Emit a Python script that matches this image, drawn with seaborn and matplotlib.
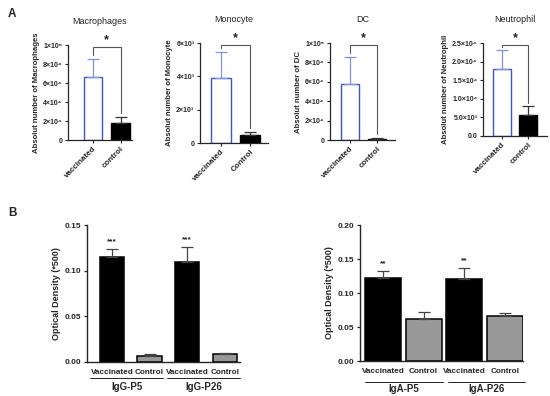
import numpy as np
import pandas as pd
import seaborn as sns
import matplotlib.pyplot as plt

sns.set_style("ticks")
plt.rcParams['font.family'] = ['Liberation Sans', 'DejaVu Sans']

# --- datos panel A ---
cells = ["Macrophages", "Monocyte", "DC", "Neutrophil"]
groups_a = [["vaccinated", "control"], ["vaccinated", "Control"],
            ["vaccinated", "control"], ["vaccinated", "control"]]
mean_a = [[6.6e4, 1.8e4], [3.9e3, 0.5e3], [5.8e4, 1.5e3], [1.8e4, 5.6e3]]
err_a = [[1.9e4, 0.6e4], [1.55e3, 0.18e3], [2.8e4, 1.0e3], [0.5e4, 2.4e3]]
ymax_a = [1e5, 6e3, 1e5, 2.5e4]
yticks_a = [[0, 2e4, 4e4, 6e4, 8e4, 1e5], [0, 2e3, 4e3, 6e3],
            [0, 2e4, 4e4, 6e4, 8e4, 1e5], [0, 5e3, 1e4, 1.5e4, 2e4, 2.5e4]]
ytlabels_a = [["0", "2×10⁴", "4×10⁴", "6×10⁴", "8×10⁴", "1×10⁵"],
              ["0", "2×10³", "4×10³", "6×10³"],
              ["0", "2×10⁴", "4×10⁴", "6×10⁴", "8×10⁴", "1×10⁵"],
              ["0.0", "5.0×10³", "1.0×10⁴", "1.5×10⁴", "2.0×10⁴", "2.5×10⁴"]]

# --- datos panel B ---
conds = ["Vaccinated", "Control", "Vaccinated", "Control"]
igg_groups = ["IgG-P5", "IgG-P26"]
igg_mean = [0.115, 0.007, 0.109, 0.009]
igg_err = [0.009, 0.0015, 0.017, 0.0005]
igg_sig = ["***", "", "***", ""]
iga_groups = ["IgA-P5", "IgA-P26"]
iga_mean = [0.122, 0.062, 0.120, 0.066]
iga_err = [0.010, 0.010, 0.017, 0.005]
iga_sig = ["**", "", "**", ""]

W, H = 550, 396
fig = plt.figure(figsize=(5.5, 3.96), dpi=100)


def px_axes(x0, x1, ytop, ybot):
    return fig.add_axes([x0 / W, 1 - ybot / H, (x1 - x0) / W, (ybot - ytop) / H])


blue = "#3a56d4"
blue_err = "#7f93e3"

# posiciones (pixeles) de los ejes de A: x0, x1, ytop, ybot, xlim
pos_a = [(68, 132, 45, 140, (-0.89, 1.4)),
         (200, 268, 43, 143, (-0.72, 1.62)),
         (330, 395, 43, 140, (-0.74, 1.67)),
         (483, 547, 43, 136, (-0.73, 1.73))]

for i, cell in enumerate(cells):
    x0, x1, yt, yb, xl = pos_a[i]
    ax = px_axes(x0, x1, yt, yb)
    df = pd.DataFrame({"grupo": groups_a[i], "valor": mean_a[i]})
    sns.barplot(data=df, x="grupo", y="valor", hue="grupo", palette=["white", "black"],
                width=0.67, legend=False, ax=ax, errorbar=None)
    for j, p in enumerate(ax.patches):
        p.set_edgecolor(blue if j == 0 else "black")
        p.set_linewidth(1.0)
    ax.errorbar([0], [mean_a[i][0]], yerr=[[0], [err_a[i][0]]], fmt="none",
                ecolor=blue_err, elinewidth=0.9, capsize=4, capthick=0.9)
    ax.errorbar([1], [mean_a[i][1]], yerr=[[0], [err_a[i][1]]], fmt="none",
                ecolor="#333333", elinewidth=0.9, capsize=4, capthick=0.9)
    ax.set_xlim(*xl)
    ax.set_ylim(0, ymax_a[i])
    ax.set_yticks(yticks_a[i])
    ax.set_yticklabels(ytlabels_a[i], fontsize=5, fontweight="bold")
    ax.set_xticks([0, 1])
    ax.set_xticklabels(groups_a[i], rotation=45, ha="right", rotation_mode="anchor",
                       fontsize=5.8, fontweight="bold")
    ax.set_xlabel("")
    ax.set_ylabel("Absolut number of " + cell, fontsize=5.6, fontweight="bold", labelpad=2)
    ax.tick_params(length=2.5, width=0.8, pad=1.5)
    sns.despine(ax=ax)
    for s in ["left", "bottom"]:
        ax.spines[s].set_linewidth(0.9)
    ax.set_title(cell, fontsize=6.5, pad=15)
    # corchete de significancia
    top = ymax_a[i]
    yb_ = 0.98 * top
    l_end = mean_a[i][0] + err_a[i][0] + 0.04 * top
    r_end = mean_a[i][1] + err_a[i][1] + 0.04 * top
    ax.plot([0, 0, 1, 1], [l_end, yb_, yb_, r_end], color="#555555", lw=0.8, clip_on=False)
    ax.text(0.5, yb_ + 0.01 * top, "*", ha="center", va="bottom", fontsize=9,
            fontweight="bold", clip_on=False)

fig.text(8 / W, 1 - 14 / H, "A", fontsize=8.5, fontweight="bold", va="center")
fig.text(8 / W, 1 - 213 / H, "B", fontsize=8.5, fontweight="bold", va="center")


def panel_b(x0, x1, yt, yb, xl, width, means, errs, sigs, grp, ymax, yticks, ytl,
            line_y, lab_y, lines_x):
    ax = px_axes(x0, x1, yt, yb)
    keys = [f"{grp[k // 2]} {conds[k]}" for k in range(4)]
    df = pd.DataFrame({"k": keys, "v": means})
    sns.barplot(data=df, x="k", y="v", hue="k",
                palette=["black", "#999999", "black", "#999999"],
                width=width, legend=False, ax=ax, errorbar=None)
    for p in ax.patches:
        p.set_edgecolor("black")
        p.set_linewidth(1.1)
    ax.errorbar(range(4), means, yerr=[np.zeros(4), errs], fmt="none",
                ecolor="#444444", elinewidth=0.9, capsize=4, capthick=0.9)
    for k in range(4):
        if sigs[k]:
            ax.text(k, means[k] + errs[k] + 0.004 * ymax / 0.15, sigs[k], ha="center",
                    va="bottom", fontsize=6, fontweight="bold")
    ax.set_xlim(*xl)
    ax.set_ylim(0, ymax)
    ax.set_yticks(yticks)
    ax.set_yticklabels(ytl, fontsize=6, fontweight="bold")
    ax.set_xticks(range(4))
    ax.set_xticklabels(conds, fontsize=5.9, fontweight="bold")
    ax.tick_params(axis="x", length=0, pad=5)
    ax.tick_params(axis="y", length=2.5, width=0.9, pad=1.5)
    ax.set_xlabel("")
    ax.set_ylabel("Optical Density (*500)", fontsize=6.5, fontweight="bold", labelpad=3)
    sns.despine(ax=ax)
    for s in ["left", "bottom"]:
        ax.spines[s].set_linewidth(1.0)
    for (lx0, lx1), g in zip(lines_x, grp):
        fig.add_artist(plt.Line2D([lx0 / W, lx1 / W], [1 - line_y / H, 1 - line_y / H],
                                  color="black", lw=0.6))
        fig.text((lx0 + lx1) / 2 / W, 1 - lab_y / H, g, ha="center", va="center",
                 fontsize=7, fontweight="bold")
    return ax


panel_b(87, 240, 225, 362, (-0.66, 3.4), 0.65, igg_mean, igg_err, igg_sig, igg_groups,
        0.15, [0, 0.05, 0.10, 0.15], ["0.00", "0.05", "0.10", "0.15"],
        378, 387, [(90, 163), (167, 240)])
panel_b(360, 523, 225, 361, (-0.56, 3.44), 0.88, iga_mean, iga_err, iga_sig, iga_groups,
        0.20, [0, 0.05, 0.10, 0.15, 0.20], ["0.00", "0.05", "0.10", "0.15", "0.20"],
        382, 389, [(365, 443), (448, 525)])

fig.savefig("out.png", dpi=100)
